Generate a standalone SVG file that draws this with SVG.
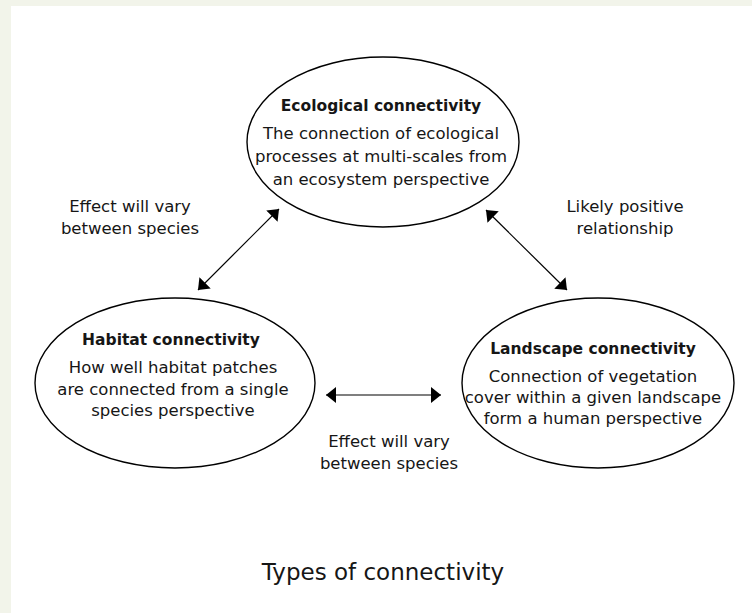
<svg xmlns="http://www.w3.org/2000/svg" width="752" height="613" viewBox="0 0 752 613">
<defs>
<style>
.bg{fill:#f2f4ea}
.panel{fill:#ffffff}
.node ellipse{fill:#ffffff;stroke:#000;stroke-width:1.4}
text{font-family:"DejaVu Sans","Noto Sans",sans-serif;fill:#161616;text-anchor:middle}
.title{font-size:15.5px;font-weight:bold}
.body{font-size:16.5px}
.lbl{font-size:16.5px}
.caption{font-size:23px}
.conn line{stroke:#000;stroke-width:1.2}
</style>
<marker id="ah" viewBox="0 0 10 16" refX="10" refY="8" markerUnits="userSpaceOnUse" markerWidth="10" markerHeight="16" orient="auto-start-reverse">
<path d="M0,0 L10,8 L0,16 z" fill="#000"/>
</marker>
</defs>
<rect class="bg" x="0" y="0" width="752" height="613"/>
<rect class="panel" x="11" y="6" width="741" height="607"/>

<g id="conn" class="conn">
<line x1="198" y1="290" x2="279" y2="209" marker-start="url(#ah)" marker-end="url(#ah)"/>
<line x1="486" y1="210" x2="567" y2="290" marker-start="url(#ah)" marker-end="url(#ah)"/>
<line x1="326" y1="395" x2="441" y2="395" marker-start="url(#ah)" marker-end="url(#ah)"/>
</g>

<g id="ecological" class="node">
<ellipse cx="383" cy="142" rx="136" ry="85"/>
<text class="title" x="381" y="111">Ecological connectivity</text>
<text class="body" x="381" y="139">The connection of ecological</text>
<text class="body" x="381" y="162">processes at multi-scales from</text>
<text class="body" x="381" y="185">an ecosystem perspective</text>
</g>

<g id="habitat" class="node">
<ellipse cx="175" cy="383" rx="140" ry="85"/>
<text class="title" x="171" y="345">Habitat connectivity</text>
<text class="body" x="173" y="373">How well habitat patches</text>
<text class="body" x="173" y="395">are connected from a single</text>
<text class="body" x="173" y="416">species perspective</text>
</g>

<g id="landscape" class="node">
<ellipse cx="598" cy="383" rx="136" ry="85"/>
<text class="title" x="593" y="354">Landscape connectivity</text>
<text class="body" x="593" y="382">Connection of vegetation</text>
<text class="body" x="593" y="403">cover within a given landscape</text>
<text class="body" x="593" y="424">form a human perspective</text>
</g>

<g id="labels">
<text class="lbl" x="130" y="212">Effect will vary</text>
<text class="lbl" x="130" y="234">between species</text>
<text class="lbl" x="625" y="212">Likely positive</text>
<text class="lbl" x="625" y="234">relationship</text>
<text class="lbl" x="389" y="447">Effect will vary</text>
<text class="lbl" x="389" y="469">between species</text>
<text class="caption" x="383" y="580">Types of connectivity</text>
</g>
</svg>
